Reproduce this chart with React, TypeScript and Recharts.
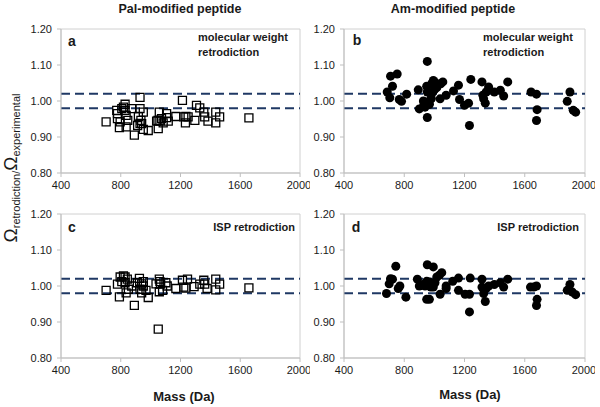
import React from 'react';
import { ScatterChart, Scatter, XAxis, YAxis, ZAxis, ReferenceLine, ReferenceArea } from 'recharts';

const NAVY = '#1F3864';
const AXIS = '#BFBFBF';
const TEXT = '#1a1a1a';
const FONT = 'Arial, "Liberation Sans", sans-serif';

const X_TICKS = [400, 800, 1200, 1600, 2000];
const Y_TICKS = [0.8, 0.9, 1.0, 1.1, 1.2];
const BAND = [0.98, 1.02];

// a: Pal-modified, molecular weight retrodiction
const palMw = [
  [702, 0.942], [778, 0.965], [778, 0.951], [773, 0.974], [791, 0.926], [796, 0.942], [807, 0.979],
  [818, 0.983], [829, 0.991], [829, 0.974], [836, 0.960], [836, 0.928], [847, 0.946], [873, 0.979],
  [891, 0.905], [913, 0.932], [918, 0.957], [929, 1.010], [929, 0.979], [929, 0.938], [935, 0.946],
  [940, 0.937], [951, 0.969], [951, 0.921], [984, 0.918], [1040, 0.944], [1049, 0.946], [1051, 0.923],
  [1058, 0.969], [1062, 0.944], [1073, 0.951], [1084, 0.939], [1107, 0.965], [1107, 0.954],
  [1118, 0.944], [1169, 0.957], [1213, 1.002], [1222, 0.956], [1233, 0.939], [1236, 0.957],
  [1251, 0.956], [1296, 0.946], [1307, 0.988], [1329, 0.981], [1356, 0.969], [1362, 0.956],
  [1384, 0.944], [1436, 0.969], [1436, 0.939], [1462, 0.956], [1658, 0.953],
];

// b: Am-modified, molecular weight retrodiction
const amMw = [
  [687, 1.025], [704, 1.009], [709, 1.069], [722, 1.041], [753, 1.075], [767, 1.004], [782, 0.999],
  [816, 1.019], [893, 1.031], [900, 0.978], [927, 1.000], [929, 0.988], [938, 0.983], [949, 1.041],
  [953, 1.110], [953, 1.025], [953, 0.954], [964, 0.991], [967, 0.991], [976, 1.006], [980, 1.007],
  [982, 1.048], [989, 1.025], [993, 1.057], [1000, 1.031], [1004, 1.052], [1016, 1.037], [1038, 1.006],
  [1042, 1.048], [1056, 1.053], [1078, 1.016], [1127, 1.028], [1160, 1.044], [1167, 1.004],
  [1200, 0.988], [1227, 0.994], [1233, 0.932], [1242, 1.060], [1316, 1.053], [1322, 1.016],
  [1327, 1.006], [1338, 0.994], [1344, 1.025], [1360, 1.039], [1398, 1.025], [1438, 1.030],
  [1460, 1.014], [1487, 1.053], [1642, 1.025], [1678, 1.019], [1682, 0.976], [1678, 0.946],
  [1882, 0.999], [1900, 1.025], [1922, 0.974], [1938, 0.969],
];

// c: Pal-modified, ISP retrodiction
const palIsp = [
  [702, 0.988], [778, 1.005], [791, 0.970], [796, 1.025], [807, 1.012], [818, 1.028], [829, 1.025],
  [829, 1.009], [836, 0.981], [844, 1.019], [851, 0.991], [873, 1.000], [891, 0.946], [911, 1.009],
  [925, 1.021], [929, 0.991], [940, 1.006], [940, 0.981], [951, 1.012], [951, 1.000], [969, 0.988],
  [984, 0.968], [1036, 1.006], [1051, 0.880], [1058, 1.019], [1058, 0.984], [1062, 1.012],
  [1067, 1.005], [1080, 0.988], [1102, 1.009], [1111, 1.000], [1169, 0.993], [1213, 1.016],
  [1222, 0.997], [1236, 0.994], [1247, 1.019], [1291, 0.998], [1329, 1.005], [1356, 1.016],
  [1362, 1.005], [1378, 0.993], [1436, 1.019], [1436, 0.989], [1462, 1.005], [1658, 0.995],
];

// d: Am-modified, ISP retrodiction
const amIsp = [
  [682, 0.979], [700, 1.006], [709, 1.020], [722, 1.019], [744, 1.055], [760, 0.993], [771, 1.000],
  [811, 0.969], [887, 1.019], [900, 1.000], [922, 1.004], [938, 1.000], [949, 1.013], [953, 1.059],
  [949, 0.963], [967, 0.963], [967, 1.011], [976, 0.997], [982, 1.006], [993, 1.053], [993, 0.997],
  [1004, 1.009], [1016, 1.025], [1033, 1.030], [1049, 1.037], [1038, 0.977], [1078, 1.000],
  [1078, 0.993], [1122, 1.013], [1160, 1.022], [1160, 0.988], [1204, 0.977], [1233, 0.928],
  [1238, 1.022], [1233, 0.977], [1316, 1.019], [1316, 0.997], [1327, 0.979], [1338, 0.957],
  [1344, 0.993], [1360, 1.000], [1398, 1.004], [1438, 1.009], [1460, 0.997], [1487, 1.019],
  [1638, 0.997], [1660, 0.997], [1678, 1.000], [1682, 0.963], [1678, 0.946], [1882, 0.988],
  [1900, 1.004], [1916, 0.983], [1938, 0.976],
];

const toPts = (arr: number[][]) => arr.map(([x, y]) => ({ x, y }));

function Panel({ data, hollow, left, top, width, height, yWidth, marginTop }: any) {
  return (
    <div style={{ position: 'absolute', left, top }}>
      <ScatterChart width={width} height={height} margin={{ top: marginTop, right: 10, bottom: 0, left: 0 }}>
        <XAxis
          type="number" dataKey="x" domain={[400, 2000]} ticks={X_TICKS} height={27}
          stroke={AXIS} tickSize={4} tickMargin={4}
          tick={{ fill: TEXT, fontSize: 11, fontFamily: FONT }}
        />
        <YAxis
          type="number" dataKey="y" domain={[0.8, 1.2]} ticks={Y_TICKS} width={yWidth}
          stroke={AXIS} tickSize={4} tickMargin={5}
          tickFormatter={(v: number) => v.toFixed(2)}
          tick={{ fill: TEXT, fontSize: 11, fontFamily: FONT }}
        />
        <ZAxis range={hollow ? [44, 44] : [28, 28]} />
        <ReferenceArea x1={400} x2={2000} y1={0.8} y2={1.2} fill="none" stroke="#D0D0D0" strokeWidth={1} />
        {BAND.map(b => (
          <ReferenceLine key={b} y={b} stroke={NAVY} strokeWidth={2} strokeDasharray="9 5" />
        ))}
        <Scatter
          data={toPts(data)}
          shape={hollow ? 'square' : 'circle'}
          fill={hollow ? 'none' : '#000'}
          stroke={hollow ? '#000' : 'none'}
          strokeWidth={1.3}
          isAnimationActive={false}
        />
      </ScatterChart>
    </div>
  );
}

export default function App() {
  const lbl = { fontFamily: FONT, fill: TEXT };
  return (
    <div style={{ position: 'absolute', left: 0, top: 0, width: 600, height: 407, background: '#fff', overflow: 'hidden' }}>
      <Panel data={palMw} hollow left={0} top={0} width={310} height={200} yWidth={61} marginTop={29} />
      <Panel data={amMw} left={290} top={0} width={305} height={200} yWidth={54} marginTop={29} />
      <Panel data={palIsp} hollow left={0} top={195} width={310} height={190} yWidth={61} marginTop={19} />
      <Panel data={amIsp} left={290} top={195} width={305} height={190} yWidth={54} marginTop={19} />
      <svg width={600} height={407} style={{ position: 'absolute', left: 0, top: 0, pointerEvents: 'none' }}>
        <text x={180} y={13} textAnchor="middle" fontSize={12.5} fontWeight="bold" {...lbl}>Pal-modified peptide</text>
        <text x={453} y={13} textAnchor="middle" fontSize={12.5} fontWeight="bold" {...lbl}>Am-modified peptide</text>
        <text x={72} y={46} textAnchor="middle" fontSize={14} fontWeight="bold" {...lbl}>a</text>
        <text x={357} y={45} textAnchor="middle" fontSize={14} fontWeight="bold" {...lbl}>b</text>
        <text x={72} y={232} textAnchor="middle" fontSize={14} fontWeight="bold" {...lbl}>c</text>
        <text x={356} y={232} textAnchor="middle" fontSize={14} fontWeight="bold" {...lbl}>d</text>
        <text x={198} y={41} fontSize={11} fontWeight="bold" {...lbl}>molecular weight</text>
        <text x={198} y={56} fontSize={11} fontWeight="bold" {...lbl}>retrodiction</text>
        <text x={483} y={41} fontSize={11} fontWeight="bold" {...lbl}>molecular weight</text>
        <text x={483} y={56} fontSize={11} fontWeight="bold" {...lbl}>retrodiction</text>
        <text x={295} y={231} textAnchor="end" fontSize={11} fontWeight="bold" {...lbl}>ISP retrodiction</text>
        <text x={579} y={231} textAnchor="end" fontSize={11} fontWeight="bold" {...lbl}>ISP retrodiction</text>
        <text x={184} y={401} textAnchor="middle" fontSize={13} fontWeight="bold" {...lbl}>Mass (Da)</text>
        <text x={470} y={399} textAnchor="middle" fontSize={13} fontWeight="bold" {...lbl}>Mass (Da)</text>
        <text transform="translate(17,168) rotate(-90)" textAnchor="middle" {...lbl}>
          <tspan fontSize={19}>Ω</tspan>
          <tspan fontSize={11} dy={3}>retrodiction</tspan>
          <tspan fontSize={11}>/</tspan>
          <tspan fontSize={19} dy={-3}>Ω</tspan>
          <tspan fontSize={11} dy={3}>experimental</tspan>
        </text>
      </svg>
    </div>
  );
}
